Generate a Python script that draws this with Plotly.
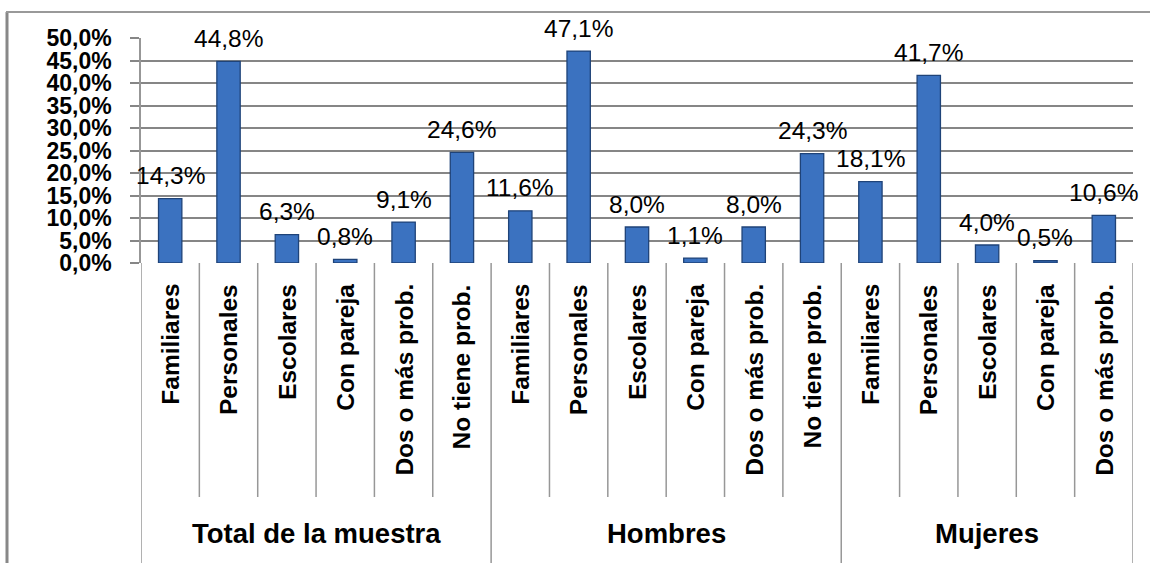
import plotly.graph_objects as go

groups = ["Total de la muestra", "Hombres", "Mujeres"]
cats_total = ["Familiares", "Personales", "Escolares", "Con pareja", "Dos o más prob.", "No tiene prob."]
cats_hombres = ["Familiares", "Personales", "Escolares", "Con pareja", "Dos o más prob.", "No tiene prob."]
cats_mujeres = ["Familiares", "Personales", "Escolares", "Con pareja", "Dos o más prob."]
vals_total = [14.3, 44.8, 6.3, 0.8, 9.1, 24.6]
vals_hombres = [11.6, 47.1, 8.0, 1.1, 8.0, 24.3]
vals_mujeres = [18.1, 41.7, 4.0, 0.5, 10.6]
y_ticks = [0, 5, 10, 15, 20, 25, 30, 35, 40, 45, 50]

group_cats = [cats_total, cats_hombres, cats_mujeres]
group_vals = [vals_total, vals_hombres, vals_mujeres]

cats, vals = [], []
for c, v in zip(group_cats, group_vals):
    cats += c
    vals += v
xs = list(range(len(vals)))

def fmt(v):
    return f"{v:.1f}%".replace(".", ",")

W, H = 1150, 563
ML, MR, MT, MB = 141, 17, 38, 300
PW, PH = W - ML - MR, H - MT - MB
BASE = MT + PH  # pixel y of 0%

def py(p):  # pixel y -> paper
    return (BASE - p) / PH

def px(p):  # pixel x -> paper
    return (p - ML) / PW

FONT = "Liberation Sans, Arial, sans-serif"
GRID = "#868686"
SEP = "#979797"

fig = go.Figure()
fig.add_trace(go.Bar(
    x=xs, y=vals, width=0.4,
    marker=dict(color="#3B72C0", line=dict(color="#1F4378", width=1.3)),
    hoverinfo="skip",
))

annotations = []
for x, v in zip(xs, vals):
    annotations.append(dict(
        x=x, y=v, xref="x", yref="y", text=fmt(v), showarrow=False,
        yanchor="middle", yshift=23,
        font=dict(family=FONT, size=24.5, color="#000"),
    ))
for x, c in zip(xs, cats):
    annotations.append(dict(
        x=x, y=py(283), xref="x", yref="paper", text=f"<b>{c}</b>", showarrow=False,
        textangle=-90, yanchor="top", xanchor="center",
        font=dict(family=FONT, size=24.5, color="#000"), borderpad=0,
    ))

shapes = []
start = 0
bounds = [-0.5]
for gi, (g, c) in enumerate(zip(groups, group_cats)):
    n = len(c)
    center = start + (n - 1) / 2
    annotations.append(dict(
        x=center, y=py(533), xref="x", yref="paper", text=f"<b>{g}</b>", showarrow=False,
        yanchor="middle", xanchor="center",
        font=dict(family=FONT, size=27.5, color="#000"),
    ))
    for k in range(1, n):
        xb = start + k - 0.5
        shapes.append(dict(type="line", xref="x", yref="paper", x0=xb, x1=xb,
                           y0=py(BASE), y1=py(497), line=dict(color=SEP, width=1.5)))
    start += n
    bounds.append(start - 0.5)
for xb in bounds:
    shapes.append(dict(type="line", xref="x", yref="paper", x0=xb, x1=xb,
                       y0=py(BASE), y1=py(600), line=dict(color=SEP, width=1.5)))

# outer chart frame
shapes.append(dict(type="line", xref="paper", yref="paper", x0=px(7), x1=px(7),
                   y0=py(12), y1=py(600), line=dict(color="#888", width=3)))
shapes.append(dict(type="line", xref="paper", yref="paper", x0=px(6), x1=px(1200),
                   y0=py(12), y1=py(12), line=dict(color="#999", width=2)))

fig.update_layout(
    width=W, height=H,
    margin=dict(l=ML, r=MR, t=MT, b=MB),
    paper_bgcolor="white", plot_bgcolor="white",
    showlegend=False,
    bargap=0.6,
    annotations=annotations,
    shapes=shapes,
    xaxis=dict(range=[-0.5, len(vals) - 0.5], showticklabels=False, showgrid=False,
               zeroline=False, showline=False, ticks=""),
    yaxis=dict(range=[0, 50], tickvals=y_ticks, ticktext=[fmt(t) for t in y_ticks],
               showgrid=True, gridcolor=GRID, gridwidth=1.5, zeroline=False,
               showline=True, linecolor=SEP, linewidth=1.5,
               ticks="outside", ticklen=9, tickcolor=GRID, tickwidth=1.5,
               ticklabelstandoff=14,
               tickfont=dict(family=FONT, size=23, color="#000", weight="bold")),
)

fig.write_html("out.html")
